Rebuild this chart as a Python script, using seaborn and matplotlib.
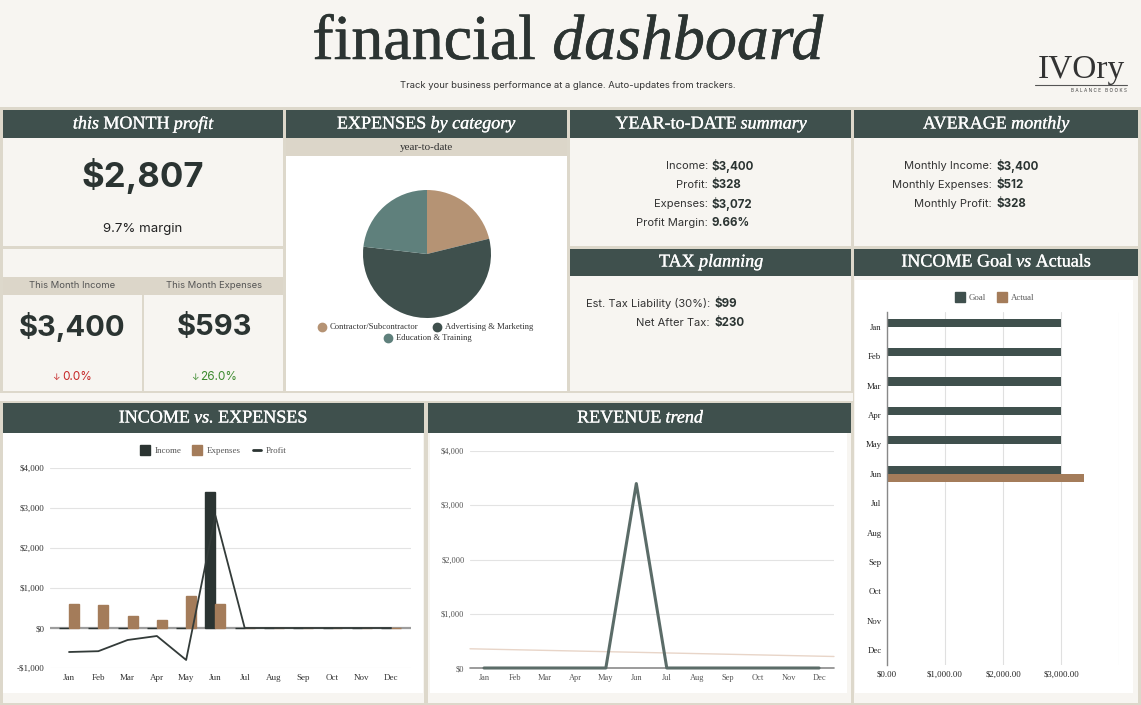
import numpy as np
import pandas as pd
import matplotlib
matplotlib.use("Agg")
import matplotlib.pyplot as plt
import matplotlib.patheffects as pe
import seaborn as sns
from matplotlib.patches import Rectangle
from matplotlib.lines import Line2D

# ---------------- data ----------------
months = ["Jan", "Feb", "Mar", "Apr", "May", "Jun", "Jul", "Aug", "Sep", "Oct", "Nov", "Dec"]
income = [0, 0, 0, 0, 0, 3400, 0, 0, 0, 0, 0, 0]
expenses = [600, 580, 300, 200, 799, 593, 0, 0, 0, 0, 0, 0]
profit = [-600, -580, -300, -200, -799, 2807, 0, 0, 0, 0, 0, 0]
income_goal = [3000, 3000, 3000, 3000, 3000, 3000, 0, 0, 0, 0, 0, 0]
income_actual = [0, 0, 0, 0, 0, 3400, 0, 0, 0, 0, 0, 0]
expense_categories = ["Contractor/Subcontractor", "Advertising & Marketing", "Education & Training"]
expense_ytd = [650, 1710, 712]
money_ticks = [-1000, 0, 1000, 2000, 3000, 4000]
revenue_ticks = [0, 1000, 2000, 3000, 4000]
goal_ticks = [0, 1000, 2000, 3000, 4000]
goal_tick_labels = ["$0.00", "$1,000.00", "$2,000.00", "$3,000.00", ""]

this_month_profit = "$2,807"
this_month_margin = "9.7% margin"
this_month_income = "$3,400"
this_month_expenses = "$593"
income_change = "0.0%"
expenses_change = "26.0%"
ytd_labels = ["Income:", "Profit:", "Expenses:", "Profit Margin:"]
ytd_values = ["$3,400", "$328", "$3,072", "9.66%"]
avg_labels = ["Monthly Income:", "Monthly Expenses:", "Monthly Profit:"]
avg_values = ["$3,400", "$512", "$328"]
tax_labels = ["Est. Tax Liability (30%):", "Net After Tax:"]
tax_values = ["$99", "$230"]

# ---------------- style ----------------
W, H = 1141, 705
BG = "#f7f5f1"
BEIGE = "#ddd8cb"
BAND = "#dcd6c9"
HEAD = "#3f504d"
DARK = "#2b3432"
TAN = "#a47c5a"
PIE_TAN = "#b59374"
TEAL = "#5f807c"
WHITE = "#ffffff"
SERIF = ["Liberation Serif", "DejaVu Serif"]
SANS = ["Inter", "DejaVu Sans"]

sns.set_theme(style="white")
plt.rcParams["font.family"] = SERIF

fig = plt.figure(figsize=(W / 100, H / 100), dpi=100)
fig.patch.set_facecolor(BG)
R = fig.canvas.get_renderer()


def box(x, y, w, h, c):
    fig.add_artist(Rectangle((x / W, 1 - (y + h) / H), w / W, h / H,
                             transform=fig.transFigure, facecolor=c,
                             edgecolor="none", zorder=-5))


def axp(x, y, w, h):
    return fig.add_axes([x / W, 1 - (y + h) / H, w / W, h / H])


def T(x, y, s, **kw):
    kw.setdefault("va", "center")
    return fig.text(x / W, 1 - y / H, s, **kw)


def space_w(size, family):
    a = fig.text(0, 0, "x x", fontsize=size, family=family)
    b = fig.text(0, 0, "xx", fontsize=size, family=family)
    w = a.get_window_extent(R).width - b.get_window_extent(R).width
    a.remove()
    b.remove()
    return w


def rich(xc, y, parts, size, color, family=SERIF, va="center", stroke=0.0, gapscale=1.0):
    effects = [pe.withStroke(linewidth=stroke, foreground=color)] if stroke > 0 else None
    objs = []
    for part in parts:
        s, st, wt = part[:3]
        sz = part[3] if len(part) > 3 else size
        objs.append(T(0, y, s, fontsize=sz, color=color, family=family, style=st,
                      weight=wt, va=va, ha="left", path_effects=effects))
    ws = [o.get_window_extent(R).width for o in objs]
    gap = space_w(size, family) * gapscale
    total = sum(ws) + gap * (len(objs) - 1)
    cur = xc - total / 2
    for o, w in zip(objs, ws):
        o.set_x(cur / W)
        cur += w + gap


def money(v):
    return f"-${abs(v):,}" if v < 0 else f"${v:,}"


# ---------------- frame / panels ----------------
box(0, 107, W, H - 107, BEIGE)
box(0, 393, 853, 8, BG)

# panel 1
box(3, 110, 280, 28, HEAD)
box(3, 138, 280, 108, BG)
box(3, 249, 280, 28, BG)
box(3, 277, 280, 18, BAND)
box(3, 295, 139, 96, BG)
box(144, 295, 139, 96, BG)
# panel 2
box(286, 110, 281, 28, HEAD)
box(286, 138, 281, 18, BAND)
box(286, 156, 281, 235, WHITE)
# panel 3
box(570, 110, 281, 28, HEAD)
box(570, 138, 281, 108, BG)
box(570, 249, 281, 27, HEAD)
box(570, 276, 281, 115, BG)
# panel 4
box(854, 110, 284, 28, HEAD)
box(854, 138, 284, 108, BG)
box(854, 249, 284, 27, HEAD)
box(854, 276, 284, 427, BG)
box(855, 280, 278, 413, WHITE)
# row 2
box(3, 403, 421, 30, HEAD)
box(3, 433, 421, 270, BG)
box(3, 433, 420, 260, WHITE)
box(428, 403, 423, 30, HEAD)
box(428, 433, 423, 270, BG)
box(430, 433, 417, 260, WHITE)

# ---------------- title area ----------------
rich(568, 59, [("financial", "normal", "normal"), ("dashboard", "italic", "normal")],
     46, "#2c3432", va="baseline", stroke=0.4)
T(568, 86, "Track your business performance at a glance. Auto-updates from trackers.",
  ha="center", fontsize=6.8, family=SANS, color="#333333")
T(1081, 70, "IVOry", ha="center", fontsize=24, family=SERIF, color="#333333")
fig.add_artist(Line2D([1035 / W, 1127 / W], [1 - 85 / H, 1 - 85 / H],
                      transform=fig.transFigure, color="#555555", lw=0.8))
T(1127, 91, "B A L A N C E   B O O K S", ha="right", fontsize=3.4, family=SANS,
  color="#444444")

# ---------------- headers ----------------
HS = 13
HK = dict(stroke=0.2)
rich(143, 124, [("this", "italic", "normal"), ("MONTH", "normal", "normal"),
                ("profit", "italic", "normal")], HS, "white", **HK)
rich(426, 124, [("EXPENSES", "normal", "normal"), ("by category", "italic", "normal")], HS, "white", **HK)
rich(711, 124, [("YEAR-to-DATE", "normal", "normal"), ("summary", "italic", "normal")], HS, "white", **HK)
rich(996, 124, [("AVERAGE", "normal", "normal"), ("monthly", "italic", "normal")], HS, "white", **HK)
rich(711, 262, [("TAX", "normal", "normal"), ("planning", "italic", "normal")], HS, "white", **HK)
rich(996, 262, [("INCOME Goal", "normal", "normal"), ("vs", "italic", "normal"),
                ("Actuals", "normal", "normal")], HS, "white", **HK)
rich(213, 418, [("INCOME", "normal", "normal"), ("vs.", "italic", "normal"),
                ("EXPENSES", "normal", "normal")], HS, "white", **HK)
rich(640, 418, [("REVENUE", "normal", "normal"), ("trend", "italic", "normal")], HS, "white", **HK)
T(426, 147, "year-to-date", ha="center", fontsize=8, family=SERIF, color="#333333")

# ---------------- KPI panel ----------------
T(143, 176, this_month_profit, ha="center", fontsize=25, weight="bold", family=SANS, color=DARK)
T(143, 229, this_month_margin, ha="center", fontsize=9.5, family=SANS, color="#222222")
T(72, 286, "This Month Income", ha="center", fontsize=6.8, family=SANS, color="#555555")
T(214, 286, "This Month Expenses", ha="center", fontsize=6.8, family=SANS, color="#555555")
T(72, 327, this_month_income, ha="center", fontsize=21, weight="bold", family=SANS, color=DARK)
T(214, 327, this_month_expenses, ha="center", fontsize=21, weight="bold", family=SANS, color=DARK)
rich(72, 377, [("\u2193", "normal", "normal", 6.5), (income_change, "normal", "normal")],
     8.5, "#c62828", family=SANS, gapscale=0.6)
rich(214, 377, [("\u2193", "normal", "normal", 6.5), (expenses_change, "normal", "normal")],
     8.5, "#3c8a2e", family=SANS, gapscale=0.6)

# ---------------- summaries ----------------
for i, (l, v) in enumerate(zip(ytd_labels, ytd_values)):
    y = 166 + 19 * i
    T(708, y, l, ha="right", fontsize=8, family=SANS, color="#333333")
    T(712, y, v, ha="left", fontsize=8.3, weight="bold", family=SANS, color=DARK)
for i, (l, v) in enumerate(zip(avg_labels, avg_values)):
    y = 166 + 19 * i
    T(992, y, l, ha="right", fontsize=8, family=SANS, color="#333333")
    T(996, y, v, ha="left", fontsize=8.3, weight="bold", family=SANS, color=DARK)
for i, (l, v) in enumerate(zip(tax_labels, tax_values)):
    y = 304 + 19 * i
    T(710, y, l, ha="right", fontsize=8, family=SANS, color="#333333")
    T(714, y, v, ha="left", fontsize=8.3, weight="bold", family=SANS, color=DARK)

# ---------------- pie ----------------
axpie = axp(363, 190, 128, 128)
axpie.pie(expense_ytd, colors=[PIE_TAN, HEAD, TEAL], startangle=90, counterclock=False,
          wedgeprops=dict(linewidth=0))
axpie.set_xlim(-1, 1)
axpie.set_ylim(-1, 1)
axpie.set_aspect("equal")
axpie.axis("off")
for (x, y), c, lab in zip([(322, 327), (437, 327), (388, 338)],
                          [PIE_TAN, HEAD, TEAL], expense_categories):
    fig.add_artist(Line2D([x / W], [1 - y / H], marker="o", markersize=6, color=c,
                          linestyle="none", transform=fig.transFigure))
    T(x + 8, y, lab, ha="left", fontsize=6.2, family=SERIF, color="#333333")

# ---------------- income vs expenses ----------------
ax1 = axp(50, 468, 361, 200)
ax1.set_facecolor("none")
df1 = pd.DataFrame({"month": months * 2, "value": income + expenses,
                    "series": ["Income"] * 12 + ["Expenses"] * 12})
sns.barplot(data=df1, x="month", y="value", hue="series", order=months,
            hue_order=["Income", "Expenses"], palette=[DARK, TAN], width=0.68,
            saturation=1, errorbar=None, legend=False, ax=ax1, zorder=2)
for p in ax1.patches:
    p.set_edgecolor(p.get_facecolor())
    p.set_linewidth(1.0)
sns.lineplot(x=months, y=profit, sort=False, color="#333b39", lw=1.3, ax=ax1, zorder=4)
ax1.axhline(0, color="#9d9d9d", lw=1.6, zorder=1.5)
ax1.set_xlim(-0.65, 11.68)
ax1.set_ylim(-1000, 4000)
ax1.set_yticks(money_ticks)
ax1.set_yticklabels([money(v) for v in money_ticks])
ax1.grid(axis="y", color="#e3e3e3", lw=0.8)
ax1.grid(axis="x", visible=False)
ax1.set_xlabel("")
ax1.set_ylabel("")
for s in ax1.spines.values():
    s.set_visible(False)
ax1.tick_params(length=0, labelsize=6.5, colors="#333333", pad=4)
ax1.legend(handles=[Line2D([], [], marker="s", markersize=7, color=DARK, linestyle="none"),
                    Line2D([], [], marker="s", markersize=7, color=TAN, linestyle="none"),
                    Line2D([], [], color=DARK, lw=2)],
           labels=["Income", "Expenses", "Profit"], loc="center",
           bbox_to_anchor=(214 / W, 1 - 451 / H), bbox_transform=fig.transFigure,
           ncol=3, frameon=False, fontsize=6.5, handlelength=0.9, handletextpad=0.6,
           columnspacing=1.3, labelcolor="#555555")

# ---------------- revenue trend ----------------
ax2 = axp(470, 451, 364, 217)
ax2.set_facecolor("none")
xi = np.arange(len(months))
sns.lineplot(x=xi, y=income, color="#5b6c68", lw=2.2, ax=ax2, zorder=3)
coef = np.polyfit(xi, income, 1)
xs = np.array([-0.46, 11.49])
ax2.plot(xs, np.polyval(coef, xs), color="#e8d5c8", lw=1.0, zorder=2)
ax2.axhline(0, color="#8a8a8a", lw=1.2, zorder=2.5, clip_on=False)
ax2.set_xlim(-0.46, 11.49)
ax2.set_ylim(0, 4000)
ax2.set_xticks(xi)
ax2.set_xticklabels(months)
ax2.set_yticks(revenue_ticks)
ax2.set_yticklabels([money(v) for v in revenue_ticks])
ax2.grid(axis="y", color="#e3e3e3", lw=0.8)
ax2.grid(axis="x", visible=False)
for s in ax2.spines.values():
    s.set_visible(False)
ax2.tick_params(length=0, labelsize=6, colors="#555555", pad=4)
for l in ax2.get_lines():
    l.set_clip_on(False)

# ---------------- goal vs actual ----------------
ax3 = axp(887, 312, 232, 353)
ax3.set_facecolor("none")
df3 = pd.DataFrame({"month": months * 2, "value": income_goal + income_actual,
                    "series": ["Goal"] * 12 + ["Actual"] * 12})
sns.barplot(data=df3, y="month", x="value", hue="series", orient="h", order=months,
            hue_order=["Goal", "Actual"], palette=[HEAD, TAN], width=0.55,
            saturation=1, errorbar=None, legend=False, ax=ax3, zorder=2, linewidth=0)
ax3.set_xlim(0, 4000)
ax3.set_ylim(11.5, -0.5)
ax3.set_xticks(goal_ticks)
ax3.set_xticklabels(goal_tick_labels)
ax3.grid(axis="x", color="#e0e0e0", lw=0.8)
ax3.grid(axis="y", visible=False)
ax3.set_xlabel("")
ax3.set_ylabel("")
for k, s in ax3.spines.items():
    s.set_visible(k == "left")
ax3.spines["left"].set_color("#888888")
ax3.spines["left"].set_linewidth(1.0)
ax3.tick_params(length=0, labelsize=6.3, colors="#222222", pad=4)
ax3.legend(handles=[Line2D([], [], marker="s", markersize=7, color=HEAD, linestyle="none"),
                    Line2D([], [], marker="s", markersize=7, color=TAN, linestyle="none")],
           labels=["Goal", "Actual"], loc="center",
           bbox_to_anchor=(995 / W, 1 - 298 / H), bbox_transform=fig.transFigure,
           ncol=2, frameon=False, fontsize=6.3, handlelength=0.9, handletextpad=0.6,
           columnspacing=1.3, labelcolor="#555555")

fig.savefig("out.png", dpi=100, facecolor=BG)
